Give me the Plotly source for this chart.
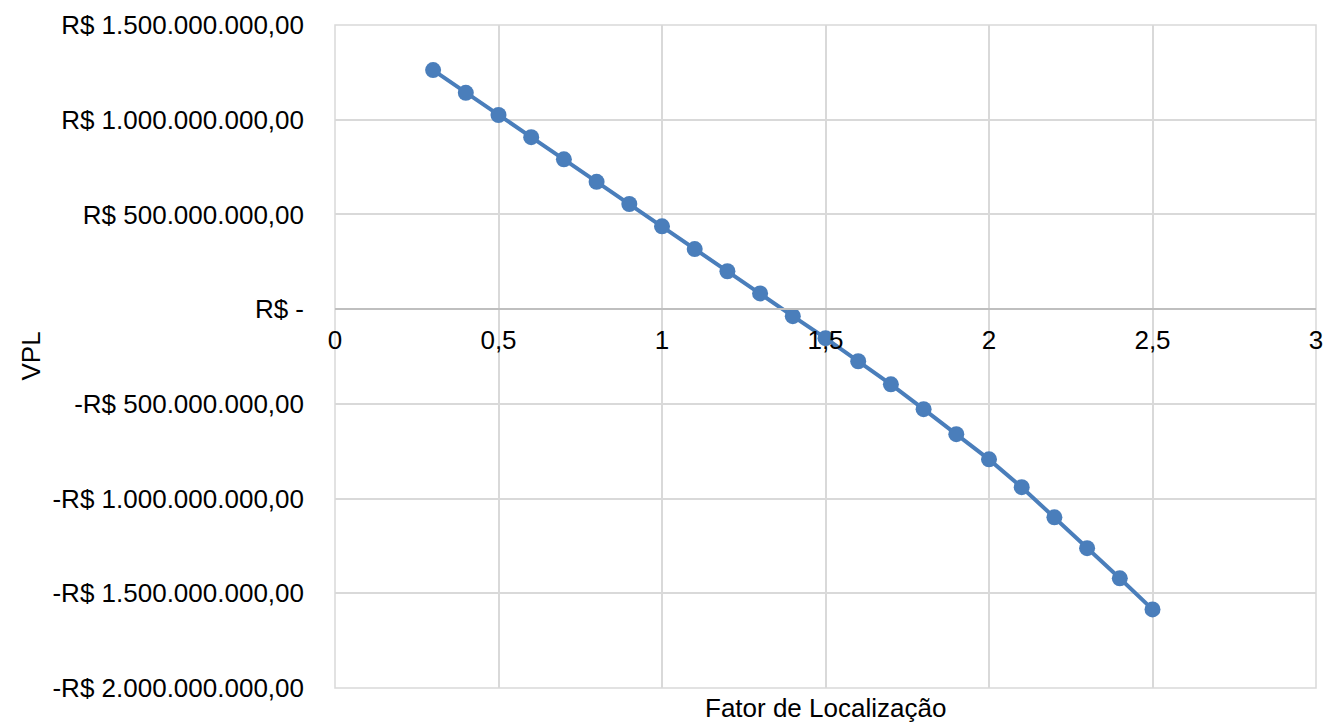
import plotly.graph_objects as go

fator = [0.3, 0.4, 0.5, 0.6, 0.7, 0.8, 0.9, 1.0, 1.1, 1.2, 1.3, 1.4, 1.5,
         1.6, 1.7, 1.8, 1.9, 2.0, 2.1, 2.2, 2.3, 2.4, 2.5]
vpl = [1.262e9, 1.142e9, 1.025e9, 0.908e9, 0.791e9, 0.672e9, 0.555e9, 0.437e9,
       0.317e9, 0.200e9, 0.083e9, -0.037e9, -0.153e9, -0.275e9, -0.397e9,
       -0.528e9, -0.660e9, -0.793e9, -0.940e9, -1.099e9, -1.262e9, -1.421e9,
       -1.585e9]

y_tickvals = [1.5e9, 1.0e9, 0.5e9, 0, -0.5e9, -1.0e9, -1.5e9, -2.0e9]
y_ticktext = ["R$ 1.500.000.000,00", "R$ 1.000.000.000,00", "R$ 500.000.000,00",
              "R$ -", "-R$ 500.000.000,00", "-R$ 1.000.000.000,00",
              "-R$ 1.500.000.000,00", "-R$ 2.000.000.000,00"]
x_tickvals = [0, 0.5, 1, 1.5, 2, 2.5, 3]
x_ticktext = ["0", "0,5", "1", "1,5", "2", "2,5", "3"]

FONT = "Liberation Sans, Arial, sans-serif"
FS = 26
BLUE = "#4a7ebb"
GRID = "#d9d9d9"

fig = go.Figure()
fig.add_trace(go.Scatter(
    x=fator, y=vpl, mode="lines+markers",
    line=dict(color=BLUE, width=4),
    marker=dict(color=BLUE, size=16),
    showlegend=False,
))

ymin, ymax = -2.0e9, 1.5e9
fig.update_layout(
    width=1327, height=722,
    margin=dict(l=335, r=11, t=25, b=34, autoexpand=False),
    paper_bgcolor="white", plot_bgcolor="white",
    font=dict(family=FONT, size=FS, color="#000000"),
    xaxis=dict(
        range=[0, 3], tickvals=x_tickvals, ticktext=x_ticktext,
        showgrid=True, gridcolor=GRID, gridwidth=1.5,
        zeroline=False, showline=True, linecolor="#bfbfbf", linewidth=1.5,
        anchor="free", position=(0 - ymin) / (ymax - ymin),
        ticks="", ticklabelstandoff=8, automargin=False,
        tickfont=dict(family=FONT, size=FS),
    ),
    yaxis=dict(
        range=[ymin, ymax], tickvals=y_tickvals, ticktext=y_ticktext,
        showgrid=True, gridcolor=GRID, gridwidth=1.5,
        zeroline=False, showline=False, automargin=False,
        ticks="", ticklabelstandoff=30,
        tickfont=dict(family=FONT, size=FS),
        domain=[0, 1],
    ),
    shapes=[
        dict(type="rect", xref="paper", yref="paper", x0=0, x1=1, y0=0, y1=1,
             line=dict(color=GRID, width=1.5), layer="below"),
    ],
    annotations=[
        dict(text="Fator de Localização", x=0.5, y=0, xref="paper", yref="paper",
             yanchor="top", yshift=-3, showarrow=False,
             font=dict(family=FONT, size=FS)),
        dict(text="VPL", textangle=-90, x=0, y=0.5, xref="paper", yref="paper",
             xanchor="center", yanchor="middle", xshift=-305, showarrow=False,
             font=dict(family=FONT, size=FS)),
    ],
)

fig.write_html("out.html")
